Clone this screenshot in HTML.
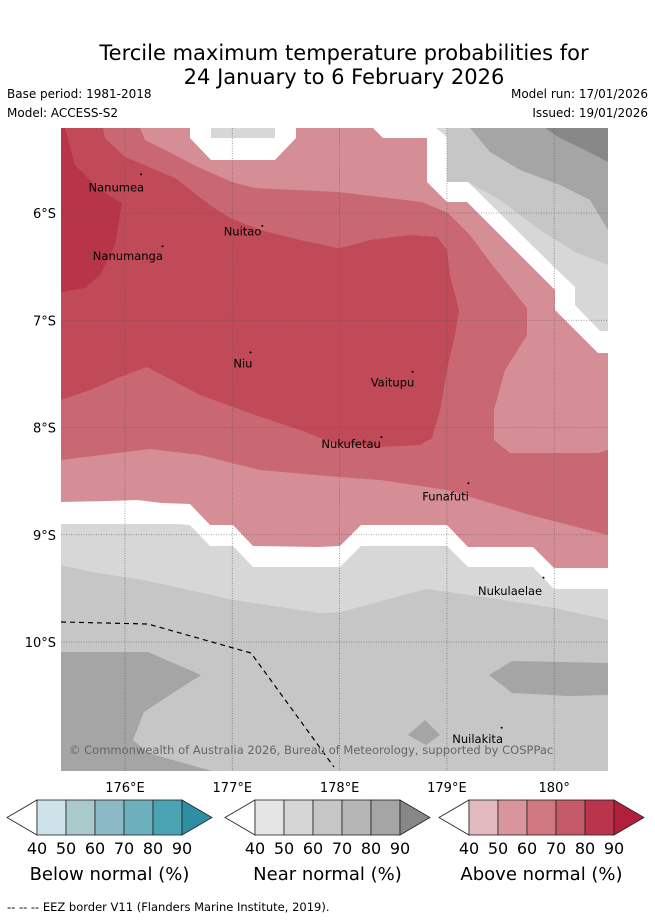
<!DOCTYPE html>
<html><head><meta charset="utf-8">
<style>
body{margin:0;background:#fff;}
svg text{font-family:"DejaVu Sans","Liberation Sans",sans-serif;}
</style></head>
<body>
<svg id="root" width="655" height="919" viewBox="0 0 655 919" xmlns="http://www.w3.org/2000/svg">
  <text x="344" y="60" font-size="21" text-anchor="middle">Tercile maximum temperature probabilities for</text>
  <text x="344" y="84" font-size="21" text-anchor="middle">24 January to 6 February 2026</text>
  <text x="7" y="98" font-size="12">Base period: 1981-2018</text>
  <text x="7" y="117" font-size="12">Model: ACCESS-S2</text>
  <text x="648" y="98" font-size="12" text-anchor="end">Model run: 17/01/2026</text>
  <text x="648" y="117" font-size="12" text-anchor="end">Issued: 19/01/2026</text>
  <defs><clipPath id="mapclip"><rect x="61" y="128" width="547" height="643"/></clipPath></defs>
  <g id="map" clip-path="url(#mapclip)"></g>
  <g id="axes"></g>
  <g id="legend"></g>
  <text x="7" y="911" font-size="11.5">--  --  -- EEZ border V11 (Flanders Marine Institute, 2019).</text>
</svg>
<script>
// Axis data
const lonTicks = [176, 177, 178, 179, 180];
const lonLabels = ["176°E", "177°E", "178°E", "179°E", "180°"];
const latTicks = [6, 7, 8, 9, 10];
const latLabels = ["6°S", "7°S", "8°S", "9°S", "10°S"];
// Island names and locations (lon E, lat S)
const placeNames = ["Nanumea","Nuitao","Nanumanga","Niu","Vaitupu","Nukufetau","Funafuti","Nukulaelae","Nuilakita"];
const placeLon = [176.15, 177.28, 176.35, 177.17, 178.68, 178.39, 179.20, 179.90, 179.51];
const placeLat = [5.64, 6.12, 6.31, 7.30, 7.48, 8.09, 8.52, 9.40, 10.80];
const labelLon = [175.66, 176.92, 175.70, 177.01, 178.29, 177.83, 178.77, 179.29, 179.05];
const labelLat = [5.80, 6.21, 6.44, 7.44, 7.62, 8.19, 8.68, 9.56, 10.94];
// Legend data
const legendTicks = ["40","50","60","70","80","90"];
const legendTitles = ["Below normal (%)","Near normal (%)","Above normal (%)"];
const belowColors = ["#cde3e9","#a9c9cd","#8bb9c5","#6cb0bd","#4aa4b4","#2e8fa3"];
const nearColors = ["#e5e5e5","#d6d6d6","#c6c6c6","#b6b6b6","#a5a5a5","#878787"];
const aboveColors = ["#e2b9bf","#d9959c","#cf7880","#c55a69","#ba344c","#b21f3c"];

const NS = "http://www.w3.org/2000/svg";
const lonToX = lon => 125 + (lon - 176) * 107.3;
const latToY = lat => 213 + (lat - 6) * 107.25;
function mk(tag, attrs, parent){const e=document.createElementNS(NS,tag);for(const k in attrs)e.setAttribute(k,attrs[k]);parent.appendChild(e);return e;}

const map = document.getElementById('map');
const shapes = [
 ["#c6c6c6","near-60-70-fill","61,128 608,128 608,771 61,771"],
 ["#d7d7d7","near-50-60-fill","61,128 608,128 608,620 555,608 484,597 426,589 341,612 319,613 234,600 144,580 91,572 61,565"],
 ["#c6c6c6","near-60-70-topright","447,128 608,128 608,265 575,252 540,230 500,200 468,182 447,182"],
 ["#a5a5a5","near-80-90-topright","470,128 608,128 608,230 590,200 560,185 520,170 490,152"],
 ["#878787","near-90-topright","545,128 608,128 608,162 585,150 560,138"],
 ["#a5a5a5","near-80-90-southwest","61,652 148,652 201,675 173,693 144,712 133,740 148,753 212,771 61,771"],
 ["#a5a5a5","near-80-90-southeast","489,675 512,661 608,663 608,695 569,696 512,693"],
 ["#a5a5a5","near-80-90-patch","408,735 425,720 440,735 426,745"],
 ["#ffffff","no-dominant-band","61,128 436,128 447,137 447,182 468,182 555,268 575,287 575,305 600,331 608,331 608,589 554,589 533,567 468,567 447,546 361,546 340,567 253,567 233,546 210,546 190,525 178,524 61,524"],
 ["#d7d7d7","near-50-60-top","211,128 275,128 275,138 211,138"],
 ["#d68e96","above-50-60-fill","61,128 190,128 190,138 211,160 275,160 296,138 296,128 373,128 383,138 427,138 427,182 447,202 467,202 555,290 555,310 598,353 608,353 608,568 554,568 533,547 468,547 447,525 361,525 340,546 319,547 253,546 233,525 210,525 190,504 162,503 137,500 109,501 61,502"],
 ["#c96872","above-60-70-fill","61,128 140,128 145,140 165,150 198,167 232,182 255,188 338,192 422,202 448,213 470,235 490,262 527,308 527,335 505,370 494,410 494,440 510,453 598,453 608,450 608,535 530,515 447,490 380,480 338,477 260,470 200,455 150,449 61,460"],
 ["#c04a58","above-70-80-fill","61,128 103,128 105,138 125,157 175,178 210,205 230,218 260,230 300,240 338,248 345,247 370,240 410,235 437,237 447,250 450,275 459,310 455,335 448,365 440,410 432,438 420,445 380,447 338,445 300,430 255,415 200,395 147,367 120,377 90,390 61,400"],
 ["#b83449","above-80-90-fill","61,128 65,128 75,165 100,190 122,203 115,245 100,275 85,288 61,292"]
];
shapes.forEach(s=>{
  const p = mk('polygon',{points:s[2],fill:s[0]},map);
  
  
});
lonTicks.forEach(l=>{
  const g = mk('line',{x1:lonToX(l),x2:lonToX(l),y1:128,y2:771,stroke:"#555","stroke-width":0.8,"stroke-dasharray":"1,1.5","stroke-opacity":0.7},map);
  
  
});
latTicks.forEach(l=>{
  const g = mk('line',{x1:61,x2:608,y1:latToY(l),y2:latToY(l),stroke:"#555","stroke-width":0.8,"stroke-dasharray":"1,1.5","stroke-opacity":0.7},map);
  
  
});
const eez = mk('polyline',{points:"61,622 148,624 251,653 334,767",fill:"none",stroke:"#000","stroke-width":1.2,"stroke-dasharray":"5,4"},map);


placeNames.forEach((n,i)=>{
  const m = mk('circle',{cx:lonToX(placeLon[i]),cy:latToY(placeLat[i]),r:1,fill:"#000"},map);
  
  
  const t = mk('text',{x:lonToX(labelLon[i]),y:latToY(labelLat[i]),"font-size":11.5,fill:"#000"},map);
  t.textContent = n;
  
  
});
const cp = mk('text',{x:69,y:754,"font-size":11.5,fill:"#666"},map);
cp.textContent = "© Commonwealth of Australia 2026, Bureau of Meteorology, supported by COSPPac";



const axes = document.getElementById('axes');
lonTicks.forEach((l,i)=>{
  const t = mk('text',{x:lonToX(l),y:792,"font-size":13,"text-anchor":"middle"},axes);
  t.textContent = lonLabels[i];
  
  
});
latTicks.forEach((l,i)=>{
  const t = mk('text',{x:56,y:latToY(l)+5,"font-size":13,"text-anchor":"end"},axes);
  t.textContent = latLabels[i];
  
  
});

const legend = document.getElementById('legend');
const legendX = [7, 225, 439];
[belowColors, nearColors, aboveColors].forEach((cols,k)=>{
  const x0 = legendX[k], y0 = 800, h = 35, w = 29, tri = 30;
  const g = mk('g',{},legend);
  
  
  mk('polygon',{points:`${x0},${y0+h/2} ${x0+tri},${y0} ${x0+tri},${y0+h}`,fill:"#fff",stroke:"#222","stroke-width":0.8},g);
  for(let i=0;i<5;i++){
    mk('rect',{x:x0+tri+i*w,y:y0,width:w,height:h,fill:cols[i],stroke:"#222","stroke-width":0.8},g);
  }
  const xe = x0+tri+5*w;
  mk('polygon',{points:`${xe},${y0} ${xe+tri},${y0+h/2} ${xe},${y0+h}`,fill:cols[5],stroke:"#222","stroke-width":0.8},g);
  legendTicks.forEach((t,i)=>{
    const tx = mk('text',{x:x0+tri+i*w,y:854,"font-size":16,"text-anchor":"middle"},g);
    tx.textContent = t;
    
    
  });
  const tt = mk('text',{x:x0+tri+2.5*w,y:880,"font-size":18,"text-anchor":"middle"},g);
  tt.textContent = legendTitles[k];
  
  
});
</script>
</body></html>
